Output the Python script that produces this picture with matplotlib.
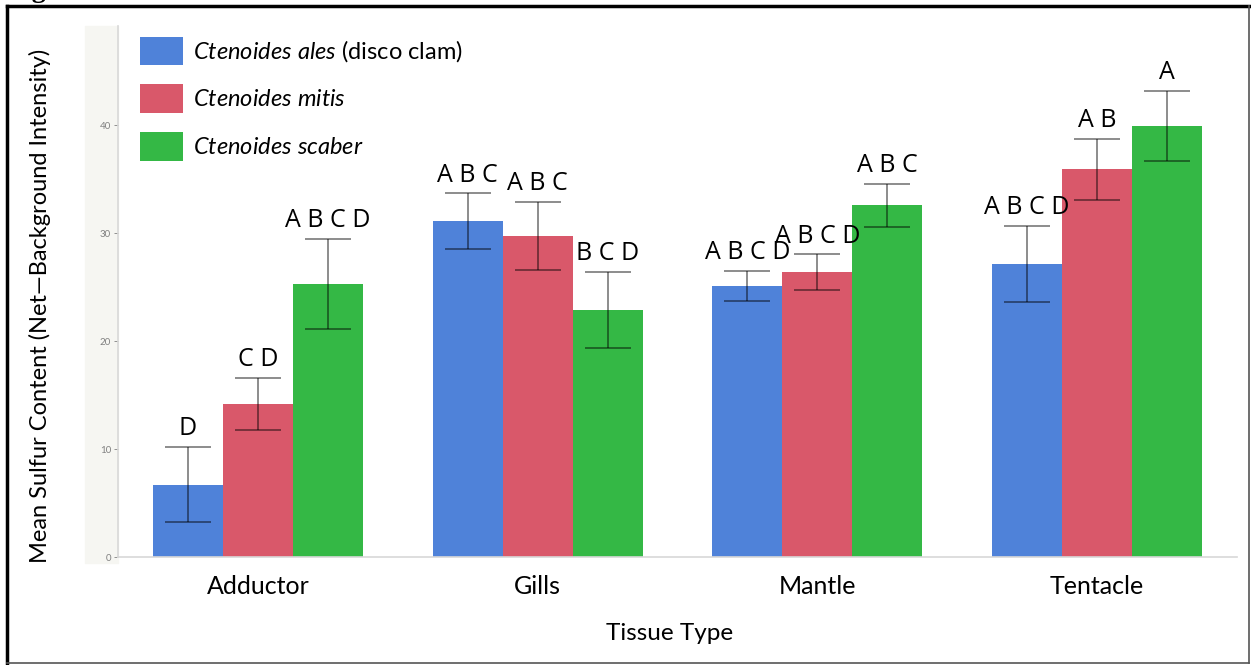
import matplotlib.pyplot as plt
import matplotlib.patches as mpatches
import numpy as np

plt.rcParams['font.family'] = ['Lato', 'DejaVu Sans']
plt.rcParams['mathtext.fontset'] = 'custom'
plt.rcParams['mathtext.it'] = 'Lato:italic'
plt.rcParams['mathtext.rm'] = 'Lato'

# data
tissues = ['Adductor', 'Gills', 'Mantle', 'Tentacle']
species = [r'$\it{Ctenoides\ ales}$ (disco clam)',
           r'$\it{Ctenoides\ mitis}$',
           r'$\it{Ctenoides\ scaber}$']
ales_mean = [6.7, 31.1, 25.1, 27.15]
ales_err = [3.5, 2.6, 1.4, 3.55]
mitis_mean = [14.2, 29.75, 26.4, 35.9]
mitis_err = [2.4, 3.15, 1.65, 2.85]
scaber_mean = [25.3, 22.9, 32.6, 39.95]
scaber_err = [4.2, 3.55, 2.0, 3.25]
ales_letters = ['D', 'A B C', 'A B C D', 'A B C D']
mitis_letters = ['C D', 'A B C', 'A B C D', 'A B']
scaber_letters = ['A B C D', 'B C D', 'A B C', 'A']
yticks = [0, 10, 20, 30, 40]

colors = ['#4F82D9', '#D9586A', '#34B845']

fig = plt.figure(figsize=(12.51, 6.65), dpi=100)
ax = fig.add_axes([0.0943, 0.1624, 0.8945, 0.7986])
ax.set_zorder(2)
ax.patch.set_alpha(0)

# light band behind the y tick labels
fig.patches.append(mpatches.Rectangle((85 / 1251, (665 - 563) / 665), 33 / 1251, 537 / 665,
                                      transform=fig.transFigure, color='#f6f6f2', zorder=-1))

x = np.arange(len(tissues))
w = 0.25
means = [ales_mean, mitis_mean, scaber_mean]
errs = [ales_err, mitis_err, scaber_err]
letters = [ales_letters, mitis_letters, scaber_letters]
for i in range(3):
    xs = x + (i - 1) * w
    ax.bar(xs, means[i], w, color=colors[i], label=species[i], zorder=2)
    ax.errorbar(xs, means[i], yerr=errs[i], fmt='none', ecolor='black', alpha=0.45,
                elinewidth=1.4, capsize=16.5, capthick=1.4, zorder=3)
    for j in range(len(tissues)):
        ax.annotate(letters[i][j], (xs[j], means[i][j] + errs[i][j]),
                    xytext=(0, 4), textcoords='offset points', ha='center', va='bottom',
                    fontsize=18, family=['Open Sans', 'DejaVu Sans'])

ax.set_xlim(-0.5, 3.5)
ax.set_ylim(0, 49.2)
ax.set_yticks(yticks)
ax.tick_params(axis='y', labelsize=7, colors='#808080', length=3, width=0.6, pad=2)
ax.tick_params(axis='x', length=0, labelsize=18, pad=13)
ax.set_xticks(x)
ax.set_xticklabels(tissues)
for s in ['top', 'right']:
    ax.spines[s].set_visible(False)
for s in ['left', 'bottom']:
    ax.spines[s].set_color('#d8d8d8')
    ax.spines[s].set_linewidth(1.2)

ax.set_xlabel('Tissue Type', fontsize=17.5, labelpad=17)
ax.xaxis.set_label_coords(0.493, -0.125)
ax.set_ylabel('Mean Sulfur Content (Net\u2014Background Intensity)', fontsize=17)
ax.yaxis.set_label_coords(-0.06, 0.473)

ax.legend(loc='upper left', bbox_to_anchor=(0.01, 1.0), frameon=False, fontsize=17,
          handlelength=1.82, handleheight=1.5, labelspacing=0.8, handletextpad=0.42,
          borderaxespad=0.05)

# outer frame of the figure panel
fig.add_artist(plt.Line2D([7 / 1251, 7 / 1251], [2 / 665, 659 / 665], color='black', lw=2.5,
                          transform=fig.transFigure))
fig.add_artist(plt.Line2D([7 / 1251, 1249 / 1251], [659 / 665, 659 / 665], color='black', lw=2.5,
                          transform=fig.transFigure))
fig.add_artist(plt.Line2D([1249 / 1251, 1249 / 1251], [2 / 665, 659 / 665], color='#555555', lw=1.2,
                          transform=fig.transFigure))
fig.add_artist(plt.Line2D([7 / 1251, 1249 / 1251], [2 / 665, 2 / 665], color='#555555', lw=1.2,
                          transform=fig.transFigure))
fig.text(0.006, 1.004, 'Figure', fontsize=20, fontweight='bold',
         family=['Liberation Serif', 'DejaVu Serif'], va='baseline')

fig.savefig('out.png', dpi=100)
